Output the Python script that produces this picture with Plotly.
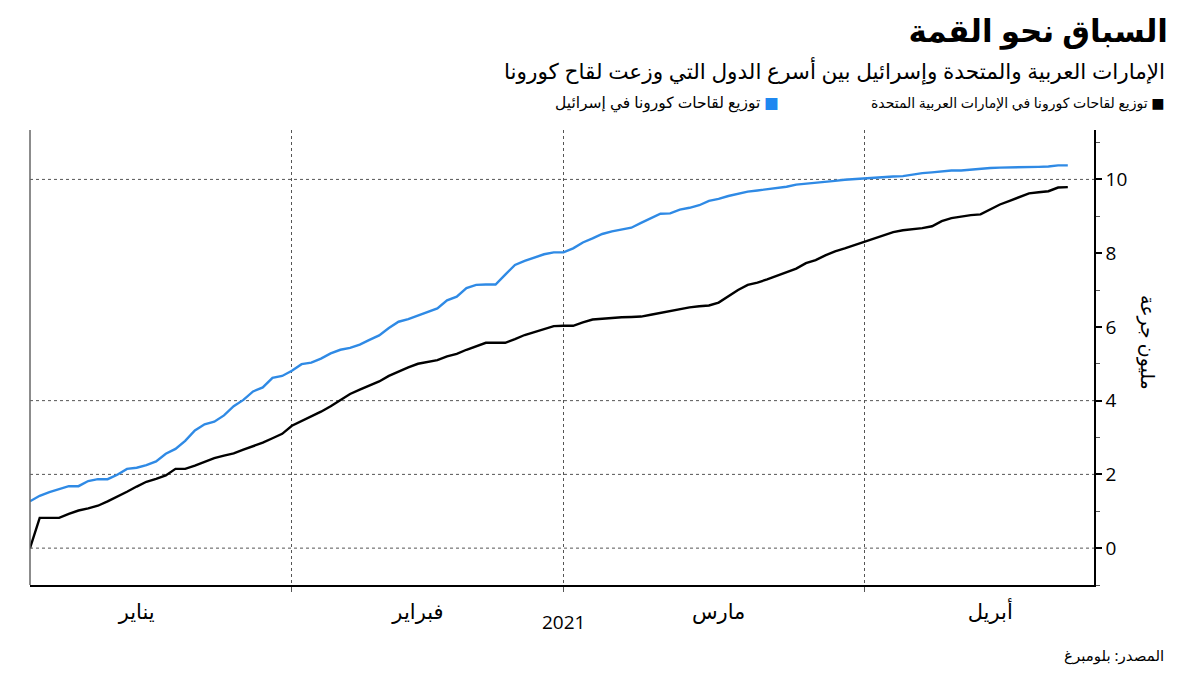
import pandas as pd
import plotly.graph_objects as go

# ---------------- data ----------------
START_DATE = "2021-01-05"
N_DAYS = 108
DATES = pd.date_range(START_DATE, periods=N_DAYS, freq="D")

UAE = [0, 0.82, 0.82, 0.82, 0.93, 1.02, 1.08, 1.15, 1.27, 1.39,
       1.53, 1.67, 1.80, 1.88, 1.97, 2.15, 2.15, 2.24, 2.35, 2.44,
       2.51, 2.57, 2.67, 2.76, 2.86, 2.98, 3.10, 3.32, 3.45, 3.56,
       3.70, 3.85, 4.02, 4.18, 4.30, 4.40, 4.52, 4.67, 4.79, 4.90,
       5.00, 5.05, 5.10, 5.20, 5.27, 5.38, 5.47, 5.57, 5.57, 5.57,
       5.67, 5.78, 5.86, 5.93, 6.02, 6.03, 6.03, 6.12, 6.20, 6.22,
       6.25, 6.26, 6.27, 6.28, 6.33, 6.38, 6.43, 6.48, 6.53, 6.56,
       6.58, 6.66, 6.83, 7.00, 7.14, 7.20, 7.29, 7.38, 7.48, 7.58,
       7.73, 7.81, 7.94, 8.05, 8.13, 8.22, 8.32, 8.40, 8.48, 8.57,
       8.62, 8.64, 8.68, 8.73, 8.87, 8.95, 9.00, 9.03, 9.05, 9.18,
       9.32, 9.42, 9.53, 9.62, 9.65, 9.68, 9.78, 9.79]

ISRAEL = [1.27, 1.42, 1.52, 1.61, 1.68, 1.68, 1.82, 1.87, 1.87, 1.99,
          2.15, 2.18, 2.25, 2.35, 2.56, 2.69, 2.91, 3.19, 3.36, 3.43,
          3.60, 3.85, 4.02, 4.25, 4.36, 4.62, 4.67, 4.81, 4.99, 5.03,
          5.14, 5.28, 5.38, 5.43, 5.52, 5.65, 5.77, 5.97, 6.14, 6.21,
          6.30, 6.40, 6.50, 6.72, 6.82, 7.05, 7.14, 7.15, 7.15, 7.42,
          7.68, 7.79, 7.87, 7.97, 8.02, 8.02, 8.13, 8.29, 8.40, 8.52,
          8.59, 8.64, 8.69, 8.82, 8.95, 9.07, 9.08, 9.18, 9.23, 9.30,
          9.42, 9.47, 9.55, 9.62, 9.67, 9.70, 9.73, 9.76, 9.80, 9.86,
          9.88, 9.92, 9.93, 9.96, 9.99, 10.01, 10.03, 10.06, 10.08, 10.08,
          10.09, 10.14, 10.17, 10.19, 10.22, 10.24, 10.24, 10.27, 10.30, 10.31,
          10.32, 10.32, 10.32, 10.32, 10.34, 10.35, 10.38, 10.38]

MONTH_TICKS = ["2021-01-16", "2021-02-14", "2021-03-17", "2021-04-14"]
MONTH_LABELS = ["يناير", "فبراير", "مارس", "أبريل"]
Y_TICKS = [0, 2, 4, 6, 8, 10]
GRID_LEVELS = [0, 2, 4, 10]
YEAR_LABEL = "2021"
YEAR_POS = "2021-03-01"

TITLE = "السباق نحو القمة"
SUBTITLE = "الإمارات العربية والمتحدة وإسرائيل بين أسرع الدول التي وزعت لقاح كورونا"
NAME_UAE = "توزيع لقاحات كورونا في الإمارات العربية المتحدة"
NAME_ISR = "توزيع لقاحات كورونا في إسرائيل"
Y_TITLE = "مليون جرعة"
SOURCE = "المصدر: بلومبرغ"

COLOR_UAE = "#000000"
COLOR_ISR = "#2f8ae5"
FONT = "Noto Sans, DejaVu Sans, sans-serif"
NUM_FONT = "Open Sans, Noto Sans, sans-serif"

# ---------------- figure ----------------
fig = go.Figure()
fig.add_trace(go.Scatter(x=DATES, y=ISRAEL, mode="lines", name=NAME_ISR,
                         line=dict(color=COLOR_ISR, width=2.4)))
fig.add_trace(go.Scatter(x=DATES, y=UAE, mode="lines", name=NAME_UAE,
                         line=dict(color=COLOR_UAE, width=2.4)))

# page body has an 8px margin; figure geometry compensates for it
OFF = 8
W, H = 1200 - OFF, 675 - OFF
L, T = 30 - OFF, 130 - OFF
R = W - (1094 - OFF)
B = H - (585 - OFF)
pw, ph = W - L - R, H - T - B


def px_x(x):
    return (x - OFF - L) / pw


def px_y(y):
    return (H - B - (y - OFF)) / ph


fig.update_layout(
    width=W, height=H,
    margin=dict(l=L, r=R, t=T, b=B),
    paper_bgcolor="white", plot_bgcolor="white",
    showlegend=False,
    font=dict(family=FONT, color="#000"),
    title=dict(text="<b>" + TITLE + "</b>", xref="container", yref="container",
               x=(1168 - OFF) / W, xanchor="right",
               y=1 - (31 - OFF) / H, yanchor="middle",
               font=dict(size=31, family=FONT, color="#000")),
)

fig.update_xaxes(
    type="date",
    range=["2021-01-05", "2021-04-24 16:48"],
    tickvals=MONTH_TICKS, ticktext=MONTH_LABELS,
    ticks="", showgrid=False,
    tickfont=dict(size=21, family=FONT, color="#000"),
    ticklabelstandoff=7,
    showline=True, linecolor="#000", linewidth=1.5,
    minor=dict(dtick="M1", tick0="2021-01-01", showgrid=True,
               gridcolor="#555", griddash="dot", gridwidth=1,
               ticks="outside", ticklen=5, tickcolor="#555", tickwidth=1),
    zeroline=False,
)

fig.update_yaxes(
    side="right",
    range=[-1.0, 11.34],
    tickvals=Y_TICKS,
    ticks="outside", ticklen=6, tickwidth=2, tickcolor="#000",
    tickfont=dict(size=19, family=NUM_FONT, color="#000"),
    showgrid=False, zeroline=False,
    showline=True, linecolor="#000", linewidth=1.5,
    minor=dict(dtick=1, tick0=1, ticks="outside", ticklen=4,
               tickcolor="#555", tickwidth=1, showgrid=False),
)

# horizontal dotted grid lines (selected levels)
for lvl in GRID_LEVELS:
    fig.add_shape(type="line", xref="paper", yref="y", x0=0, x1=1, y0=lvl, y1=lvl,
                  line=dict(color="#555", width=1, dash="dot"), layer="below")

# left frame line (grey)
fig.add_shape(type="line", xref="paper", yref="paper", x0=0, x1=0, y0=0, y1=1,
              line=dict(color="#666", width=1.5))

annotations = [
    dict(text=SUBTITLE, xref="paper", yref="paper", x=px_x(1167), y=px_y(70),
         xanchor="right", yanchor="middle", showarrow=False,
         font=dict(size=21.6, family=FONT, color="#000")),
    dict(text=NAME_UAE + " <span style='color:%s'>■</span>" % COLOR_UAE,
         xref="paper", yref="paper", x=px_x(1167), y=px_y(102),
         xanchor="right", yanchor="middle", showarrow=False,
         font=dict(size=14, family=FONT, color="#000")),
    dict(text=NAME_ISR + " <span style='color:#1e88f0'>■</span>",
         xref="paper", yref="paper", x=px_x(781), y=px_y(102),
         xanchor="right", yanchor="middle", showarrow=False,
         font=dict(size=15.5, family=FONT, color="#000")),
    dict(text=Y_TITLE, xref="paper", yref="paper", x=px_x(1148), y=px_y(342),
         xanchor="center", yanchor="middle", showarrow=False, textangle=90,
         font=dict(size=19, family=FONT, color="#000")),
    dict(text=YEAR_LABEL, xref="x", yref="paper", x=YEAR_POS, y=px_y(622),
         xanchor="center", yanchor="middle", showarrow=False,
         font=dict(size=19, family=NUM_FONT, color="#000")),
    dict(text=SOURCE, xref="paper", yref="paper", x=px_x(1166), y=px_y(655),
         xanchor="right", yanchor="middle", showarrow=False,
         font=dict(size=15, family=FONT, color="#000")),
]
fig.update_layout(annotations=annotations)

fig.write_html("out.html")
